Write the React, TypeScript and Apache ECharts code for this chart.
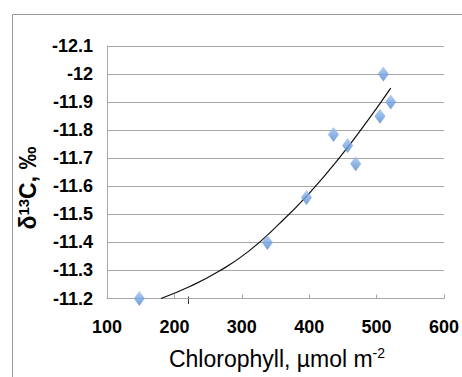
import React, { useEffect, useRef } from "react";
import * as echarts from "echarts";

const chlorophyll = [148, 338, 396, 436, 457, 469, 505, 510, 521];
const delta13C = [-11.2, -11.4, -11.56, -11.785, -11.745, -11.68, -11.85, -12.0, -11.9];

const trendX = [180, 222, 266, 310, 355, 400, 445, 490, 521];
const trendY = [-11.2, -11.242, -11.297, -11.368, -11.465, -11.575, -11.702, -11.845, -11.95];

const xTicks = { min: 100, max: 600, interval: 100 };
const yTicks = { min: -12.1, max: -11.2, interval: 0.1 };

const FONT = "'Liberation Sans Narrow', 'Liberation Sans', Arial, sans-serif";

export default function App() {
  const ref = useRef<HTMLDivElement>(null);
  useEffect(() => {
    const chart = echarts.init(ref.current!, null, { renderer: "svg" });
    chart.setOption({
      animation: false,
      backgroundColor: "#ffffff",
      grid: { left: 107, top: 46, right: 15, bottom: 78.5, containLabel: false },
      xAxis: {
        type: "value",
        min: xTicks.min,
        max: xTicks.max,
        interval: xTicks.interval,
        axisLine: { show: true, lineStyle: { color: "#a6a6a6", width: 1 } },
        axisTick: { show: true, inside: true, length: 4, lineStyle: { color: "#a6a6a6" } },
        splitLine: { show: false },
        axisLabel: {
          color: "#000",
          fontFamily: FONT,
          fontWeight: "bold",
          fontSize: 18,
          margin: 19,
        },
      },
      yAxis: {
        type: "value",
        inverse: true,
        min: yTicks.min,
        max: yTicks.max,
        interval: yTicks.interval,
        axisLine: { show: true, lineStyle: { color: "#a6a6a6", width: 1 } },
        axisTick: { show: false },
        splitLine: { show: true, lineStyle: { color: "#a6a6a6", width: 1 } },
        axisLabel: {
          color: "#000",
          fontFamily: FONT,
          fontWeight: "bold",
          fontSize: 18,
          margin: 14,
          formatter: (v: number) => String(Math.round(v * 10) / 10),
        },
      },
      series: [
        {
          type: "line",
          data: trendX.map((x, i) => [x, trendY[i]]),
          smooth: true,
          symbol: "none",
          lineStyle: { color: "#111", width: 1.2 },
          z: 3,
        },
        {
          type: "scatter",
          data: chlorophyll.map((x, i) => [x, delta13C[i]]),
          symbol: "diamond",
          symbolSize: [11, 15],
          itemStyle: {
            color: new echarts.graphic.LinearGradient(0, 0, 0, 1, [
              { offset: 0, color: "#9ec3f0" },
              { offset: 1, color: "#4f86d2" },
            ]),
          },
          z: 4,
        },
      ],
      graphic: [
        {
          type: "line",
          shape: { x1: 12.5, y1: 14.5, x2: 462, y2: 14.5 },
          style: { stroke: "#999", lineWidth: 1 },
        },
        {
          type: "line",
          shape: { x1: 12.5, y1: 14.5, x2: 12.5, y2: 377 },
          style: { stroke: "#999", lineWidth: 1 },
        },
        {
          type: "line",
          shape: { x1: 188.5, y1: 296.5, x2: 188.5, y2: 304 },
          style: { stroke: "#333", lineWidth: 1 },
        },
        {
          type: "text",
          x: 277,
          y: 359,
          style: {
            text: "{n|Chlorophyll, µmol m}{s|-2}",
            align: "center",
            verticalAlign: "middle",
            rich: {
              n: { fontFamily: FONT, fontSize: 23, fill: "#000", color: "#000" },
              s: { fontFamily: FONT, fontSize: 14, fill: "#000", color: "#000", verticalAlign: "top", padding: [0, 0, 12, 0] },
            },
          },
        },
        {
          type: "text",
          x: 28,
          y: 188,
          rotation: Math.PI / 2,
          style: {
            text: "{n|δ}{s|13}{n|C, ‰}",
            align: "center",
            verticalAlign: "middle",
            rich: {
              n: { fontFamily: FONT, fontSize: 23, fontWeight: "bold", fill: "#000", color: "#000" },
              s: { fontFamily: FONT, fontSize: 15, fontWeight: "bold", fill: "#000", color: "#000", padding: [0, 0, 10, 0] },
            },
          },
        },
      ],
    });
    return () => chart.dispose();
  }, []);
  return (
    <div
      ref={ref}
      style={{ position: "fixed", left: 0, top: 0, width: 462, height: 377 }}
    />
  );
}
